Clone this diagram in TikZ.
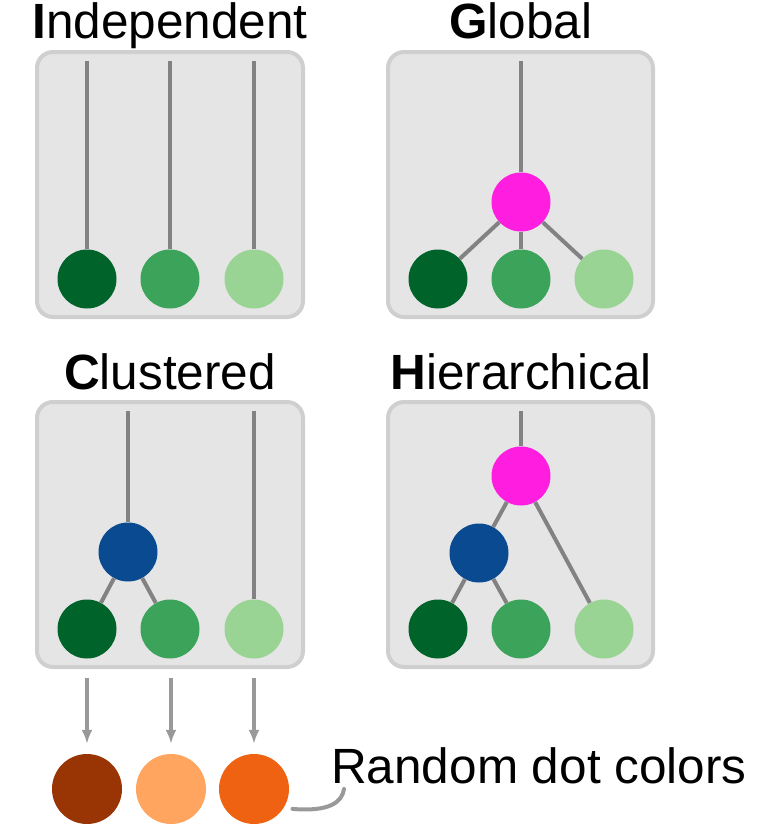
\documentclass[tikz,border=0pt]{standalone}
\usepackage{fontspec}
\setmainfont{Liberation Sans}
\usetikzlibrary{arrows.meta}
\definecolor{panelfill}{HTML}{E5E5E5}
\definecolor{panelline}{HTML}{CFCFCF}
\definecolor{linkgray}{HTML}{828282}
\definecolor{arrowgray}{HTML}{999999}
\definecolor{greenA}{HTML}{00632A}
\definecolor{greenB}{HTML}{3CA35A}
\definecolor{greenC}{HTML}{9AD494}
\definecolor{topmag}{HTML}{FF1EE0}
\definecolor{midblue}{HTML}{0A4A90}
\definecolor{brownA}{HTML}{993404}
\definecolor{orangeB}{HTML}{FFA55F}
\definecolor{orangeC}{HTML}{EE6211}
\tikzset{
  panel/.style={draw=panelline, line width=4pt, fill=panelfill, rounded corners=16pt},
  dot/.style={circle, minimum size=59pt, inner sep=0pt},
  bigdot/.style={circle, minimum size=70pt, inner sep=0pt},
  link/.style={draw=linkgray, line width=4pt},
  flow/.style={draw=arrowgray, line width=4pt, -{Latex[length=14pt,width=11pt]}, shorten >=10pt},
  callout/.style={draw=arrowgray, line width=4pt, line cap=round, shorten <=9pt},
  title/.style={font=\fontsize{49.5}{59}\selectfont, anchor=base, inner sep=0pt},
}
\begin{document}
\begin{tikzpicture}[x=1pt,y=-1pt]
    \useasboundingbox (0,0) rectangle (768,827);
    \draw[panel] (37,52) rectangle (303,317);
    \draw[panel] (388,52) rectangle (653,317);
    \draw[panel] (37,402) rectangle (303,667);
    \draw[panel] (388,402) rectangle (653,667);

    \node[title] (tind) at (170,38) {\textbf{I}ndependent};
    \node[title] (tglo) at (521,38) {\textbf{G}lobal};
    \node[title] (tclu) at (170,389) {\textbf{C}lustered};
    \node[title] (thie) at (521,389) {\textbf{H}ierarchical};

    \coordinate (ind1top) at (87,61);
    \coordinate (ind2top) at (170,61);
    \coordinate (ind3top) at (254,61);
    \node[dot, fill=greenA] (ind1) at (87,279) {};
    \node[dot, fill=greenB] (ind2) at (170,279) {};
    \node[dot, fill=greenC] (ind3) at (254,279) {};
    \draw[link] (ind1top) -- (ind1);
    \draw[link] (ind2top) -- (ind2);
    \draw[link] (ind3top) -- (ind3);

    \coordinate (glotop) at (521,61);
    \node[dot, fill=topmag] (glomag) at (521,202) {};
    \node[dot, fill=greenA] (glo1) at (438,279) {};
    \node[dot, fill=greenB] (glo2) at (521,279) {};
    \node[dot, fill=greenC] (glo3) at (604,279) {};
    \draw[link] (glotop) -- (glomag);
    \draw[link] (glomag) -- (glo1);
    \draw[link] (glomag) -- (glo2);
    \draw[link] (glomag) -- (glo3);

    \coordinate (clutop) at (128,411);
    \coordinate (clu3top) at (254,411);
    \node[dot, fill=midblue] (clublue) at (128,552) {};
    \node[dot, fill=greenA] (clu1) at (87,629) {};
    \node[dot, fill=greenB] (clu2) at (170,629) {};
    \node[dot, fill=greenC] (clu3) at (254,629) {};
    \draw[link] (clutop) -- (clublue);
    \draw[link] (clublue) -- (clu1);
    \draw[link] (clublue) -- (clu2);
    \draw[link] (clu3top) -- (clu3);

    \coordinate (hietop) at (521,411);
    \node[dot, fill=topmag] (hiemag) at (521,476) {};
    \node[dot, fill=midblue] (hieblue) at (479,553) {};
    \node[dot, fill=greenA] (hie1) at (438,629) {};
    \node[dot, fill=greenB] (hie2) at (521,629) {};
    \node[dot, fill=greenC] (hie3) at (604,629) {};
    \draw[link] (hietop) -- (hiemag);
    \draw[link] (hiemag) -- (hieblue);
    \draw[link] (hieblue) -- (hie1);
    \draw[link] (hieblue) -- (hie2);
    \draw[link] (hiemag) -- (hie3);

    \coordinate (out1) at (87,678);
    \coordinate (out2) at (171,678);
    \coordinate (out3) at (254,678);
    \node[bigdot, fill=brownA] (rand1) at (87,789) {};
    \node[bigdot, fill=orangeB] (rand2) at (171,789) {};
    \node[bigdot, fill=orangeC] (rand3) at (254,789) {};
    \draw[flow] (out1) -- (rand1);
    \draw[flow] (out2) -- (rand2);
    \draw[flow] (out3) -- (rand3);

    \node[font=\fontsize{49.5}{59}\selectfont, anchor=base west, inner sep=0pt] (randlabel) at (331,783) {Random dot colors};
    \coordinate (labeltail) at (344,789);
    \draw[callout] (rand3.-33) .. controls (330,812) and (342,802) .. (labeltail);
\end{tikzpicture}
\end{document}
